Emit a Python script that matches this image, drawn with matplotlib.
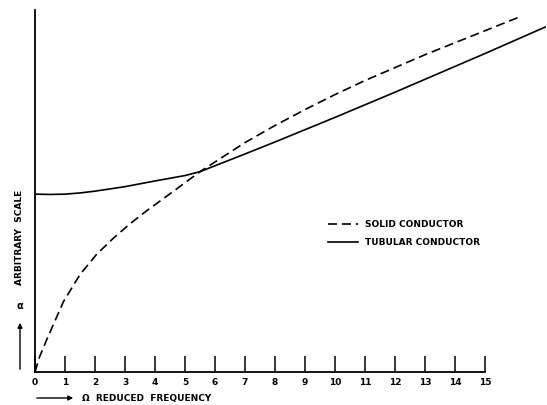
import matplotlib
matplotlib.use("Agg")
import matplotlib.pyplot as plt
from matplotlib.patches import FancyArrowPatch

# ---- data (arbitrary units) ----
solid_x = [0, 0.15, 0.4, 0.95, 1.5, 2.05, 2.6, 3.15, 3.7, 4.25, 4.85, 5.5, 7, 8, 9, 10, 11, 12, 13, 14, 15, 16.1]
solid_y = [0, 0.5, 1.1, 2.35, 3.25, 3.92, 4.45, 4.93, 5.36, 5.76, 6.2, 6.68, 7.65, 8.22, 8.75, 9.25, 9.72, 10.15, 10.58, 10.98, 11.38, 11.82]

tubular_x = [0, 0.5, 1, 1.5, 2, 3, 4, 5, 5.5, 7, 8, 9, 10, 11, 12, 13, 14, 15, 16, 17]
tubular_y = [5.93, 5.92, 5.93, 5.97, 6.03, 6.18, 6.37, 6.55, 6.68, 7.27, 7.67, 8.08, 8.49, 8.91, 9.33, 9.76, 10.19, 10.62, 11.06, 11.5]

tick_values = list(range(0, 16))
tick_labels = [str(v) for v in tick_values]

plt.rcParams['lines.scale_dashes'] = False
plt.rcParams['font.family'] = ['DejaVu Sans']

W, H = 547, 405
fig = plt.figure(figsize=(W / 100, H / 100), dpi=100)
ax = fig.add_axes([35 / W, 33 / H, 1 - 36 / W, (372 - 10) / H])

ax.plot(solid_x, solid_y, color='black', lw=1.2, dashes=(6.5, 3.5), label='SOLID CONDUCTOR')
ax.plot(tubular_x, tubular_y, color='black', lw=1.2, label='TUBULAR CONDUCTOR')

ax.set_xlim(0, 17.03)
ax.set_ylim(0, 12.07)

for s in ['top', 'right']:
    ax.spines[s].set_visible(False)
ax.spines['bottom'].set_bounds(0, 15)
ax.spines['left'].set_linewidth(1.3)
ax.spines['bottom'].set_linewidth(1.3)

ax.set_xticks(tick_values)
ax.set_xticklabels(tick_labels, fontsize=6.5, fontweight='bold')
ax.tick_params(axis='x', direction='in', length=11.5, width=1.1, pad=4)
ax.set_yticks([])

leg = ax.legend(loc='upper left', bbox_to_anchor=(328 / W, 1 - 220 / H), bbox_transform=fig.transFigure,
                frameon=False, fontsize=6.5, handlelength=3.3, handletextpad=0.8,
                labelspacing=1.0, borderpad=0, borderaxespad=0)
for t in leg.get_texts():
    t.set_fontweight('bold')

# axis labels with arrows
fig.text(20 / W, 1 - 237 / H, 'ARBITRARY  SCALE', rotation=90, fontsize=6.5,
         fontweight='bold', ha='center', va='center')
fig.text(20 / W, 1 - 306 / H, 'α', fontsize=7, fontweight='bold', ha='center', va='center')
fig.add_artist(FancyArrowPatch((20 / W, 1 - 372 / H), (20 / W, 1 - 320 / H),
               transform=fig.transFigure, arrowstyle='-|>', mutation_scale=7, lw=1.0, color='black'))
fig.add_artist(FancyArrowPatch((34 / W, 1 - 398 / H), (76 / W, 1 - 398 / H),
               transform=fig.transFigure, arrowstyle='-|>', mutation_scale=7, lw=1.0, color='black'))
fig.text(82 / W, 1 - 398 / H, 'Ω  REDUCED  FREQUENCY', fontsize=6.5, fontweight='bold',
         ha='left', va='center')

fig.savefig('out.png', dpi=100)
